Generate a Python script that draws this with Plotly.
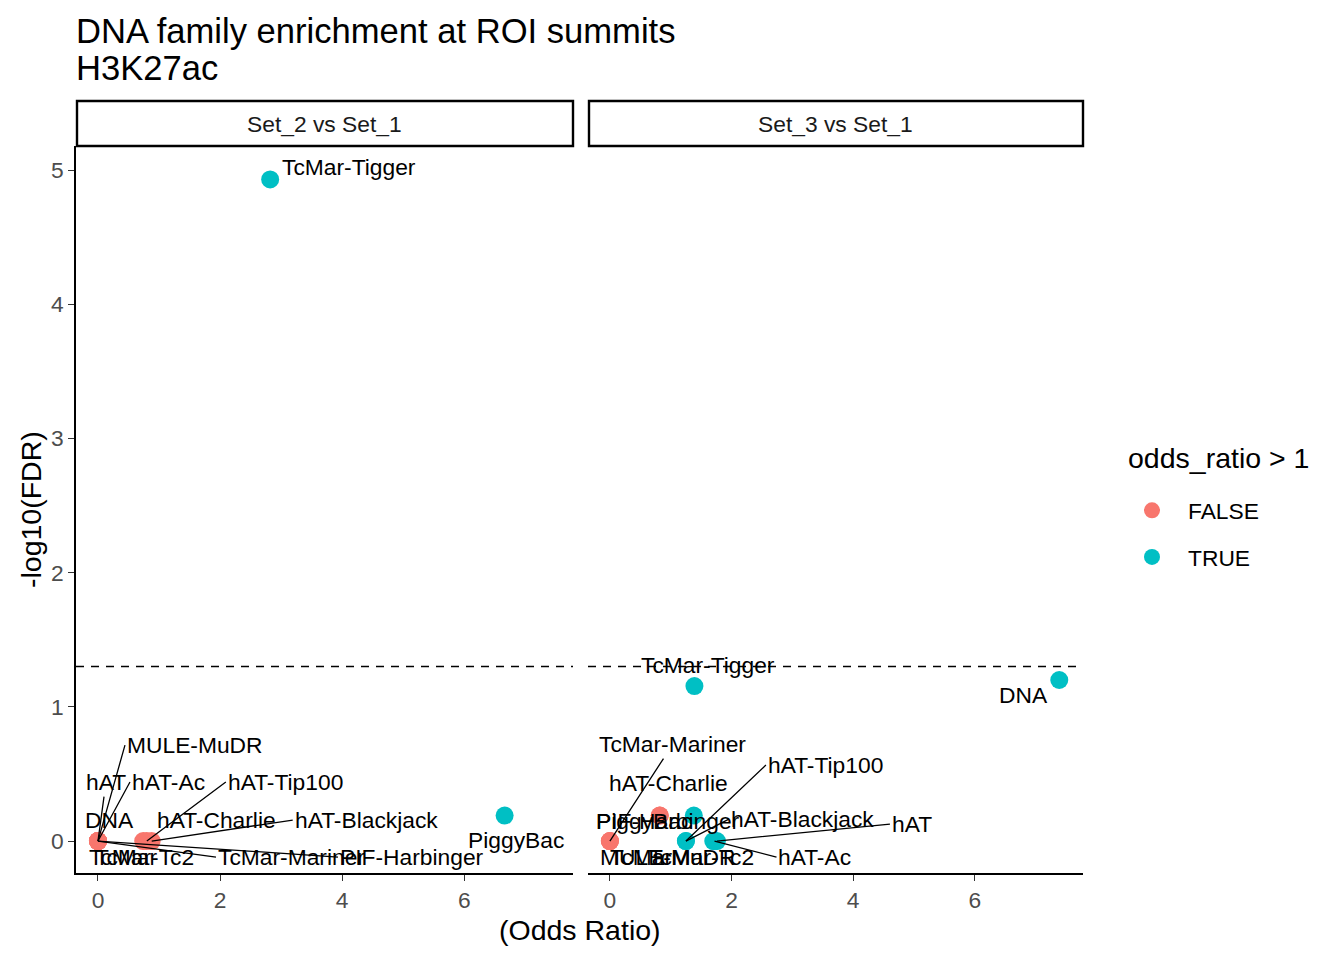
import plotly.graph_objects as go
import math

# ---------------- data ----------------
families = ["DNA", "hAT", "hAT-Ac", "hAT-Blackjack", "hAT-Charlie", "hAT-Tip100",
            "MULE-MuDR", "PIF-Harbinger", "PiggyBac", "TcMar", "TcMar-Mariner",
            "TcMar-Tc2", "TcMar-Tigger"]
panels = ["Set_2 vs Set_1", "Set_3 vs Set_1"]

set2_odds = [0, 0, 0, 0.88, 0.74, 0.80, 0, 0, 6.66, 0, 0, 0, 2.82]
set2_neglog_fdr = [0, 0, 0, 0, 0, 0, 0, 0, 0.19, 0, 0, 0, 4.93]

set3_odds = [7.39, 1.76, 1.72, 1.25, 0.82, 1.25, 0, 1.38, 0.82, 0, 0, 1.70, 1.39]
set3_neglog_fdr = [1.20, 0, 0, 0, 0.19, 0, 0, 0.19, 0.19, 0, 0, 0, 1.155]

fdr_cutoff = 0.05
x_ticks = [0, 2, 4, 6]
y_ticks = [0, 1, 2, 3, 4, 5]

# ---------------- label placement (pixel offsets from the point) ----------------
# family -> (dx, dy, xanchor, draw_segment)
label_layout_set2 = {
    "TcMar-Tigger": (10, -12, "left", False),
    "PiggyBac": (11, 24, "center", False),
    "DNA": (12, -21, "center", False),
    "hAT": (8, -59, "center", True),
    "hAT-Ac": (32, -59, "left", True),
    "MULE-MuDR": (27, -96, "left", True),
    "hAT-Charlie": (73, -21, "center", False),
    "hAT-Tip100": (79, -59, "left", True),
    "hAT-Blackjack": (141, -21, "left", True),
    "TcMar": (-5, 16, "left", False),
    "TcMar-Tc2": (-11, 16, "left", False),
    "TcMar-Mariner": (118, 16, "left", True),
    "PIF-Harbinger": (240, 16, "left", True),
}
label_layout_set3 = {
    "TcMar-Tigger": (14, -21, "center", False),
    "DNA": (-36, 15, "center", False),
    "TcMar-Mariner": (63, -97, "center", True),
    "hAT-Charlie": (9, -33, "center", False),
    "hAT-Tip100": (80, -76, "left", True),
    "PiggyBac": (-16, 5, "center", False),
    "PIF-Harbinger": (-26, 5, "center", False),
    "hAT-Blackjack": (43, -22, "left", True),
    "hAT": (173, -17, "left", True),
    "hAT-Ac": (62, 16, "left", True),
    "MULE-MuDR": (-12, 16, "left", False),
    "TcMar": (-2, 16, "left", False),
    "TcMar-Tc2": (-12, 16, "center", False),
}

# ---------------- styling ----------------
PAGE_PAD = 8                      # browser body margin
W, H = 1344 - 2 * PAGE_PAD, 960 - 2 * PAGE_PAD
FONT = "Liberation Sans, Arial, sans-serif"
COL_FALSE = "#F8766D"
COL_TRUE = "#00BFC4"
TICK_SIZE = 22.8
LABEL_SIZE = 22.8
AXIS_TITLE_SIZE = 28.5
TITLE_SIZE = 34.6


def px_x(p):
    return (p - PAGE_PAD) / W


def px_y(p):
    return 1 - (p - PAGE_PAD) / H


panel_x = [(76, 573), (588, 1083)]
x_range = [-0.36, 7.78]
y_range = [-0.238, 5.179]

fig = go.Figure()

datasets = [(set2_odds, set2_neglog_fdr, label_layout_set2),
            (set3_odds, set3_neglog_fdr, label_layout_set3)]

annotations = []
shapes = []
for i, (odds, nl, lay) in enumerate(datasets):
    xa = "x" if i == 0 else "x2"
    ya = "y" if i == 0 else "y2"
    for flag, col in [(False, COL_FALSE), (True, COL_TRUE)]:
        xs = [o for o in odds if (o > 1) == flag]
        ys = [v for o, v in zip(odds, nl) if (o > 1) == flag]
        tx = [f for f, o in zip(families, odds) if (o > 1) == flag]
        fig.add_trace(go.Scatter(
            x=xs, y=ys, text=tx, mode="markers", xaxis=xa, yaxis=ya,
            marker=dict(size=18, color=col, line=dict(width=0)),
            name=str(flag).upper(), legendgroup=str(flag),
            showlegend=(i == 0), hoverinfo="text+x+y"))
    # labels
    for f, o, v in zip(families, odds, nl):
        dx, dy, anc, seg = lay[f]
        a = dict(x=o, y=v, xref=xa, yref=ya, text=f,
                 font=dict(family=FONT, size=LABEL_SIZE, color="black"),
                 xanchor=anc, yanchor="middle")
        if seg:
            a.update(showarrow=True, ax=dx, ay=dy, arrowhead=0,
                     arrowwidth=1.3, arrowcolor="black", standoff=0)
        else:
            a.update(showarrow=False, xshift=dx, yshift=-dy)
        annotations.append(a)
    # dashed FDR cutoff line
    shapes.append(dict(type="line", xref=f"{xa} domain", yref=ya,
                       x0=0, x1=1, y0=-math.log10(fdr_cutoff), y1=-math.log10(fdr_cutoff),
                       line=dict(color="black", width=1.5, dash="8px,7px")))
    # strip box
    x0, x1 = panel_x[i]
    shapes.append(dict(type="rect", xref="paper", yref="paper",
                       x0=px_x(x0 + 1), x1=px_x(x1), y0=px_y(146), y1=px_y(101),
                       line=dict(color="black", width=2.4), fillcolor="white"))
    annotations.append(dict(x=px_x((x0 + x1) / 2), y=px_y(124), xref="paper", yref="paper",
                            text=panels[i], showarrow=False, xanchor="center", yanchor="middle",
                            font=dict(family=FONT, size=TICK_SIZE, color="#1A1A1A")))

# titles
annotations.append(dict(x=px_x(74), y=px_y(31), xref="paper", yref="paper",
                        text="DNA family enrichment at ROI summits", showarrow=False,
                        xanchor="left", yanchor="middle",
                        font=dict(family=FONT, size=TITLE_SIZE, color="black")))
annotations.append(dict(x=px_x(74), y=px_y(68), xref="paper", yref="paper",
                        text="H3K27ac", showarrow=False, xanchor="left", yanchor="middle",
                        font=dict(family=FONT, size=TITLE_SIZE, color="black")))
annotations.append(dict(x=px_x(580), y=px_y(930), xref="paper", yref="paper",
                        text="(Odds Ratio)", showarrow=False, xanchor="center", yanchor="middle",
                        font=dict(family=FONT, size=AXIS_TITLE_SIZE, color="black")))
annotations.append(dict(x=px_x(31), y=px_y(510), xref="paper", yref="paper",
                        text="-log10(FDR)", showarrow=False, textangle=-90,
                        xanchor="center", yanchor="middle",
                        font=dict(family=FONT, size=AXIS_TITLE_SIZE, color="black")))
# legend title
annotations.append(dict(x=px_x(1126), y=px_y(458), xref="paper", yref="paper",
                        text="odds_ratio > 1", showarrow=False, xanchor="left", yanchor="middle",
                        font=dict(family=FONT, size=AXIS_TITLE_SIZE, color="black")))

common_x = dict(range=x_range, tickvals=x_ticks, showgrid=False, zeroline=False,
                showline=True, linecolor="black", linewidth=1.6, ticks="outside",
                ticklen=6, tickwidth=1.4, tickcolor="#333333",
                tickfont=dict(family=FONT, size=TICK_SIZE, color="#4D4D4D"))

fig.update_layout(
    width=W, height=H, margin=dict(l=0, r=0, t=0, b=0),
    paper_bgcolor="white", plot_bgcolor="white",
    font=dict(family=FONT),
    xaxis=dict(domain=[px_x(76), px_x(573)], anchor="y", **common_x),
    xaxis2=dict(domain=[px_x(588), px_x(1083)], anchor="y2", **common_x),
    yaxis=dict(domain=[px_y(873), px_y(146)], range=y_range, tickvals=y_ticks,
               showgrid=False, zeroline=False, showline=True, linecolor="black",
               linewidth=1.6, ticks="outside", ticklen=6, tickwidth=1.4,
               tickcolor="#333333", anchor="x",
               tickfont=dict(family=FONT, size=TICK_SIZE, color="#4D4D4D")),
    yaxis2=dict(domain=[px_y(873), px_y(146)], range=y_range, matches="y",
                showgrid=False, zeroline=False, showline=False, showticklabels=False,
                ticks="", anchor="x2"),
    legend=dict(x=px_x(1116), xanchor="left", y=px_y(489), yanchor="top",
                font=dict(family=FONT, size=TICK_SIZE, color="black"),
                traceorder="grouped", tracegroupgap=14, itemwidth=62,
                bgcolor="rgba(0,0,0,0)"),
    annotations=annotations, shapes=shapes,
)

fig.write_html("out.html")
